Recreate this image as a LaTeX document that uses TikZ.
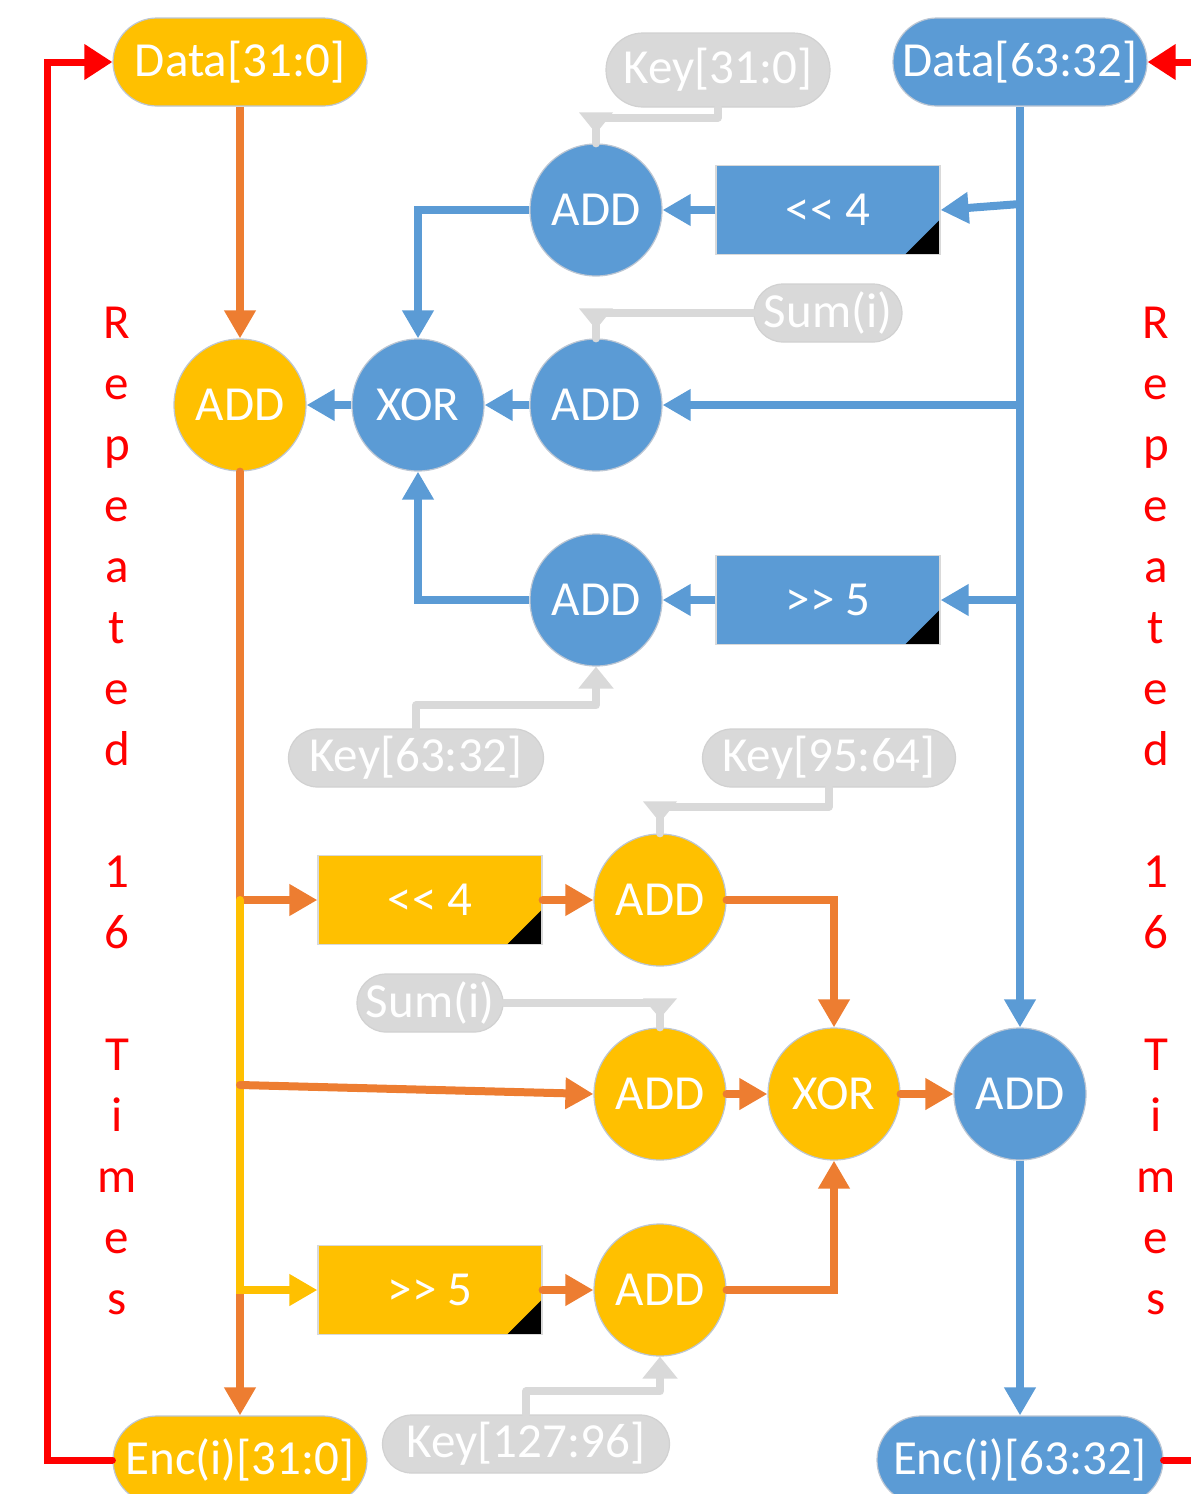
\documentclass[tikz,border=0pt]{standalone}
\usepackage{fontspec}
\setmainfont{Carlito}
\usetikzlibrary{arrows.meta,calc}
\definecolor{cOr}{HTML}{FFC000}
\definecolor{cBl}{HTML}{5B9BD5}
\definecolor{cLn}{HTML}{ED7D31}
\definecolor{cGy}{HTML}{D9D9D9}
\definecolor{cRd}{HTML}{FF0000}
\definecolor{cEd}{HTML}{BCC6D3}
\begin{document}
\begin{tikzpicture}[x=1pt,y=-1pt,
  lbl/.style={font=\fontsize{49}{58}\selectfont, text=white, inner sep=0pt},
  pill/.style={lbl, rectangle, rounded corners=#1, draw=cEd, line width=1.2pt},
  opill/.style={pill=44pt, fill=cOr, minimum width=254pt, minimum height=88pt},
  bpill/.style={pill=44pt, fill=cBl, minimum width=254pt, minimum height=88pt},
  gpill/.style={pill=29pt, fill=cGy, draw=black!18, minimum height=58pt},
  circ/.style={lbl, circle, draw=cEd, line width=1.2pt, minimum size=132pt},
  ocirc/.style={circ, fill=cOr},
  bcirc/.style={circ, fill=cBl},
  shbox/.style={lbl, rectangle, draw=black!15, line width=1.2pt, minimum width=224pt, minimum height=89pt,
    path picture={\fill[black] (path picture bounding box.south east) -- ++(-35pt,0pt) -- ++(35pt,35pt) -- cycle;}},
  oshbox/.style={shbox, fill=cOr},
  bshbox/.style={shbox, fill=cBl},
  tipM/.style={-{Triangle[length=28pt,width=30pt]}},
  oarr/.style={draw=cLn, line width=8pt, tipM, line cap=round},
  yarr/.style={draw=cOr, line width=8pt, tipM, line cap=round},
  barr/.style={draw=cBl, line width=8pt, tipM},
  garr/.style={draw=cGy, line width=8pt, line join=round, line cap=round, -{Triangle[length=22pt,width=34pt]}},
  gline/.style={draw=cGy, line width=8pt, line join=round, line cap=round},
  gtri/.style={fill=cGy},
  rarr/.style={draw=cRd, line width=7pt, line cap=round, -{Triangle[length=28pt,width=34pt]}},
  rep/.style={font=\fontsize{49}{58}\selectfont, text=cRd, inner sep=0pt, anchor=base}
]
\useasboundingbox (0,0) rectangle (1191,1494);

% terminals
\node[opill] (dL) at (240,62) {Data[31:0]};
\node[bpill] (dR) at (1020,62) {Data[63:32]};
\node[opill] (eL) at (240,1460) {Enc(i)[31:0]};
\node[bpill, minimum width=286pt] (eR) at (1020,1460) {Enc(i)[63:32]};

% key / sum labels
\node[gpill, minimum width=224pt, minimum height=74pt, rounded corners=37pt] (k0) at (718,70) {Key[31:0]};
\node[gpill, minimum width=148pt] (s1) at (828,313) {Sum(i)};
\node[gpill, minimum width=255pt] (k1) at (416,758) {Key[63:32]};
\node[gpill, minimum width=253pt] (k2) at (829,758) {Key[95:64]};
\node[gpill, minimum width=146pt] (s2) at (430,1003) {Sum(i)};
\node[gpill, minimum width=287pt] (k3) at (526,1444) {Key[127:96]};

% blue half
\node[bcirc] (a1) at (596,210) {ADD};
\node[bcirc] (a2) at (596,405) {ADD};
\node[bcirc] (a3) at (596,600) {ADD};
\node[bcirc] (xb) at (418,405) {XOR};
\node[bshbox] (sl4b) at (828,210) {<{}< 4};
\node[bshbox] (sr5b) at (828,600) {>{}> 5};
\node[ocirc] (aO) at (240,405) {ADD};

% orange half
\node[oshbox] (sl4o) at (430,900) {<{}< 4};
\node[oshbox] (sr5o) at (430,1290) {>{}> 5};
\node[ocirc] (ao1) at (660,900) {ADD};
\node[ocirc] (ao2) at (660,1094) {ADD};
\node[ocirc] (ao3) at (660,1290) {ADD};
\node[ocirc] (xo) at (834,1094) {XOR};
\node[bcirc] (ab) at (1020,1094) {ADD};

% branch points
\coordinate (bb1) at (1020,204);
\coordinate (bb2) at (1020,405);
\coordinate (bb3) at (1020,600);
\coordinate (ob1) at (240,900);
\coordinate (ob2) at (240,1085);
\coordinate (ob3) at (240,1290);
\coordinate (rL) at (47,62);
\coordinate (rR1) at (1200,1460);
\coordinate (rR2) at (1200,62);

% blue connectors
\draw[barr] (dR.south) -- (ab.north);
\draw[barr] (ab.south) -- (eR.north);
\draw[barr] (bb1) -- (sl4b.east);
\draw[barr] (bb2) -- (a2.east);
\draw[barr] (bb3) -- (sr5b.east);
\draw[barr] (sl4b.west) -- (a1.east);
\draw[barr] (sr5b.west) -- (a3.east);
\draw[barr] (a1.west) -| (xb.north);
\draw[barr] (a3.west) -| (xb.south);
\draw[barr] (a2.west) -- (xb.east);
\draw[barr] (xb.west) -- (aO.east);

% gray key connectors
\draw[gline] (k0.south) -- ++(0,10) -| (a1.north);
\fill[gtri] ($(a1.north)+(-17,-31)$) -- ($(a1.north)+(17,-31)$) -- ($(a1.north)+(0,-10)$) -- cycle;
\draw[gline] (s1.west) -| (a2.north);
\fill[gtri] ($(a2.north)+(-17,-30)$) -- ($(a2.north)+(17,-30)$) -- ($(a2.north)+(0,-9)$) -- cycle;
\draw[garr] (k1.north) -- ++(0,-23) -| (a3.south);
\draw[gline] (k2.south) -- ++(0,19) -| (ao1.north);
\fill[gtri] ($(ao1.north)+(-17,-32)$) -- ($(ao1.north)+(17,-32)$) -- ($(ao1.north)+(0,-11)$) -- cycle;
\draw[gline] (s2.east) -| (ao2.north);
\fill[gtri] ($(ao2.north)+(-17,-29)$) -- ($(ao2.north)+(17,-29)$) -- ($(ao2.north)+(0,-9)$) -- cycle;
\draw[garr] (k3.north) -- ++(0,-23) -| (ao3.south);

% orange connectors
\draw[oarr, line cap=butt] (dL.south) -- (aO.north);
\draw[oarr] (aO.south) -- (eL.north);
\draw[oarr, line cap=butt] (ob1) -- (sl4o.west);
\draw[yarr] (ob1) -- (ob3) -- (sr5o.west);
\draw[oarr] (ob2) -- (ao2.west);
\draw[oarr] (sl4o.east) -- (ao1.west);
\draw[oarr] (sr5o.east) -- (ao3.west);
\draw[oarr] (ao1.east) -| (xo.north);
\draw[oarr] (ao3.east) -| (xo.south);
\draw[oarr] (ao2.east) -- (xo.west);
\draw[oarr] (xo.east) -- (ab.west);

% red loops
\draw[rarr] (eL.west) -| (rL) -- (dL.west);
\draw[rarr] (eR.east) -- (rR1) -- (rR2) -- (dR.east);

% repeated text
\foreach \ch [count=\i from 0] in {R,e,p,e,a,t,e,d,{},1,6,{},T,i,m,e,s} {
  \node[rep] (repL\i) at (117,338+\i*61) {\ch};
  \node[rep] (repR\i) at (1156,338+\i*61) {\ch};
}
\end{tikzpicture}
\end{document}
